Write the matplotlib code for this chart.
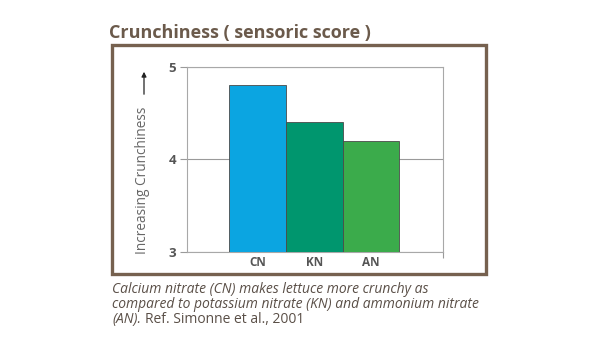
import matplotlib
matplotlib.use("Agg")
import matplotlib.pyplot as plt
from matplotlib.patches import Rectangle, FancyArrowPatch

plt.rcParams['font.family'] = ['Open Sans', 'DejaVu Sans']

categories = ["CN", "KN", "AN"]
scores = [4.8, 4.4, 4.2]
bar_colors = ["#0ba5e1", "#00966e", "#3bab4b"]
y_ticks = [3, 4, 5]

W, H = 600, 338
fig = plt.figure(figsize=(W / 100, H / 100), dpi=100)
fig.patch.set_facecolor("white")

def fx(px):
    return px / W

def fy(py):
    return 1 - py / H

# Brown frame around the chart
frame = Rectangle((fx(111.5), fy(273.5)), fx(486) - fx(111.5), fy(45) - fy(273.5),
                  transform=fig.transFigure, fill=False, edgecolor="#76614f",
                  linewidth=2.4, zorder=0)
fig.add_artist(frame)

fig.text(fx(109), fy(38), "Crunchiness ( sensoric score )", fontsize=13,
         fontweight="bold", color="#6b5a4b", ha="left", va="baseline")

ax = fig.add_axes([fx(187), fy(251.7), fx(443) - fx(187), fy(66.7) - fy(251.7)])
x = range(len(categories))
ax.bar(x, scores, width=1.0, bottom=0, color=bar_colors, edgecolor="#4a4a4a",
       linewidth=0.6, zorder=3)
ax.set_xlim(-1.25, 3.27)
ax.set_ylim(3, 5)
ax.set_yticks(y_ticks)
ax.set_yticklabels([str(t) for t in y_ticks], fontweight="bold", color="#555555",
                   fontsize=9.5)
ax.set_xticks(list(x))
ax.set_xticklabels(categories, fontweight="bold", color="#555555", fontsize=8.5)
ax.tick_params(axis="x", length=0, pad=3)
ax.tick_params(axis="y", length=5, width=0.8, color="#9a9a9a", pad=3)
ax.set_xticks([3.27], minor=True)
ax.tick_params(axis="x", which="minor", length=4, width=0.8, color="#9a9a9a")
ax.yaxis.grid(True, color="#9a9a9a", linewidth=0.8, zorder=0)
ax.set_axisbelow(True)
for s in ax.spines.values():
    s.set_color("#a8a8a8")
    s.set_linewidth(0.8)

# Rotated axis label with an upward arrow
fig.text(fx(142), fy(180), "Increasing Crunchiness", rotation=90, fontsize=9.8,
         color="#666666", ha="center", va="center")
arrow = FancyArrowPatch((fx(144), fy(97)), (fx(144), fy(69)),
                        transform=fig.transFigure, arrowstyle="-|>",
                        mutation_scale=7, color="#222222", linewidth=0.9)
fig.add_artist(arrow)

cap_color = "#5a4f47"
cap_size = 10
fig.text(fx(112), fy(293), "Calcium nitrate (CN) makes lettuce more crunchy as",
         fontsize=cap_size, style="italic", color=cap_color, va="baseline")
fig.text(fx(112), fy(308),
         "compared to potassium nitrate (KN) and ammonium nitrate",
         fontsize=cap_size, style="italic", color=cap_color, va="baseline")
t3 = fig.text(fx(112), fy(323), "(AN).", fontsize=cap_size, style="italic",
              color=cap_color, va="baseline")
renderer = fig.canvas.get_renderer()
bb = t3.get_window_extent(renderer)
fig.text(fx(bb.x1 + 4), fy(323), "Ref. Simonne et al., 2001", fontsize=cap_size,
         color=cap_color, va="baseline")

fig.savefig("out.png", dpi=100, facecolor="white")
